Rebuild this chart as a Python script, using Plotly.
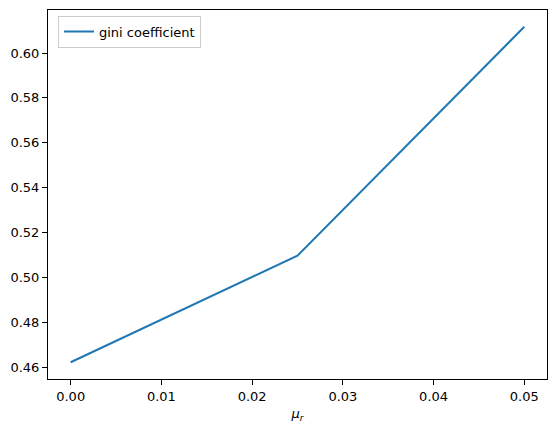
import plotly.graph_objects as go

## 데이터
mu_r = [0.0, 0.025, 0.05]
gini = [0.4622, 0.5097, 0.6117]

## matplotlib 기본처럼 5% 여백
def pad(v, m=0.05):
    lo, hi = min(v), max(v)
    s = hi - lo
    return [lo - m * s, hi + m * s]

fig = go.Figure()
fig.add_trace(go.Scatter(x=mu_r, y=gini, mode="lines", name="gini coefficient",
                         line=dict(color="#1f77b4", width=2)))

axis_style = dict(showline=True, linecolor="black", linewidth=1, mirror=True,
                  ticks="outside", ticklen=5, tickwidth=1, tickcolor="black",
                  showgrid=False, zeroline=False, automargin=False,
                  tickfont=dict(family="DejaVu Sans", size=13, color="black"))

fig.update_xaxes(range=pad(mu_r), dtick=0.01, tick0=0, tickformat=".2f",
                 title=dict(text="<i>μ</i><sub><i>r</i></sub>",
                            font=dict(family="DejaVu Sans", size=13, color="black"),
                            standoff=6),
                 **axis_style)
fig.update_yaxes(range=pad(gini), dtick=0.02, tick0=0, tickformat=".2f", **axis_style)

## 페이지 body 여백(8px) 만큼 줄임
fig.update_layout(
    width=548, height=425,
    margin=dict(l=40, r=9, t=2, b=54),
    plot_bgcolor="white", paper_bgcolor="white",
    showlegend=True,
    legend=dict(x=0.02, y=0.985, xanchor="left", yanchor="top",
                bordercolor="#cccccc", borderwidth=1, bgcolor="white",
                tracegroupgap=0, itemwidth=30,
                font=dict(family="DejaVu Sans", size=13, color="black")),
)

fig.write_html("out.html")
